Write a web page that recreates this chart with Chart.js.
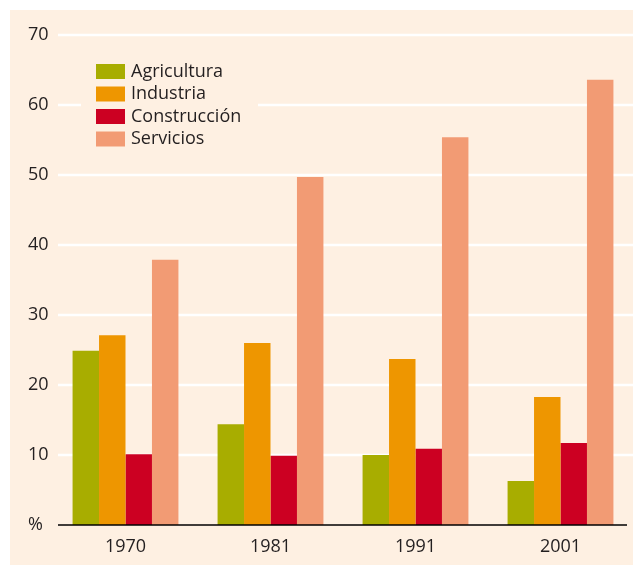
<!DOCTYPE html>
<html>
<head>
<meta charset="utf-8">
<script src="https://cdn.jsdelivr.net/npm/chart.js@4/dist/chart.umd.min.js"></script>
<style>
html,body{margin:0;padding:0;background:#ffffff;}
#wrap{width:633px;height:565px;position:relative;}
</style>
</head>
<body>
<div id="wrap"><canvas id="c" width="633" height="565"></canvas></div>
<script>
const categories = ['1970', '1981', '1991', '2001'];
const seriesNames = ['Agricultura', 'Industria', 'Construcción', 'Servicios'];
const agricultura = [24.9, 14.4, 10.0, 6.3];
const industria = [27.1, 26.0, 23.7, 18.3];
const construccion = [10.1, 9.9, 10.9, 11.7];
const servicios = [37.9, 49.7, 55.4, 63.6];
const yTickValues = [0, 10, 20, 30, 40, 50, 60, 70];
const yTickLabels = ['%', '10', '20', '30', '40', '50', '60', '70'];

const colors = ['#a8ad00', '#ee9600', '#cc0022', '#f29b74'];
const CREAM = '#fef0e2';
const FONT = '"Open Sans", "Noto Sans", sans-serif';
const TEXT = '#231f20';

const bgPlugin = {
  id: 'bg',
  beforeDraw(chart) {
    const ctx = chart.ctx;
    ctx.save();
    ctx.fillStyle = '#ffffff';
    ctx.fillRect(0, 0, chart.width, chart.height);
    ctx.fillStyle = CREAM;
    ctx.fillRect(10, 10, chart.width - 10, chart.height - 10);
    ctx.restore();
  }
};

const gridPlugin = {
  id: 'customGrid',
  beforeDatasetsDraw(chart) {
    const ctx = chart.ctx, y = chart.scales.y, a = chart.chartArea;
    ctx.save();
    ctx.strokeStyle = '#ffffff';
    ctx.lineWidth = 2.5;
    yTickValues.forEach(v => {
      if (v === 0) return;
      const py = y.getPixelForValue(v);
      ctx.beginPath();
      ctx.moveTo(a.left + 5, py);
      ctx.lineTo(chart.width, py);
      ctx.stroke();
    });
    ctx.restore();
  },
  afterDatasetsDraw(chart) {
    const ctx = chart.ctx, y = chart.scales.y, a = chart.chartArea;
    const py = y.getPixelForValue(0);
    ctx.save();
    ctx.strokeStyle = '#000000';
    ctx.lineWidth = 1.5;
    ctx.beginPath();
    ctx.moveTo(a.left + 5, py);
    ctx.lineTo(chart.width - 6, py);
    ctx.stroke();
    ctx.restore();
  }
};

const legendPlugin = {
  id: 'customLegend',
  afterDraw(chart) {
    const ctx = chart.ctx, a = chart.chartArea;
    const x0 = a.left + 28, areaX = a.left + 43;
    ctx.save();
    ctx.fillStyle = CREAM;
    ctx.fillRect(x0, 52, 177, 102);
    ctx.font = '18px ' + FONT;
    ctx.textBaseline = 'middle';
    ctx.textAlign = 'left';
    chart.data.datasets.forEach((ds, i) => {
      const top = 64 + i * 22.5;
      ctx.fillStyle = ds.backgroundColor;
      ctx.fillRect(areaX, top, 29, 15);
      ctx.fillStyle = TEXT;
      ctx.fillText(ds.label, areaX + 35, top + 7.5);
    });
    ctx.restore();
  }
};

const seriesData = [agricultura, industria, construccion, servicios];

new Chart(document.getElementById('c'), {
  type: 'bar',
  data: {
    labels: categories,
    datasets: seriesNames.map((n, i) => ({
      label: n,
      data: seriesData[i],
      backgroundColor: colors[i],
      borderWidth: 0,
      barPercentage: 1.0,
      categoryPercentage: 0.73
    }))
  },
  options: {
    responsive: false,
    animation: false,
    devicePixelRatio: 1,
    layout: { padding: { top: 35, left: 28, right: 0, bottom: 0 } },
    plugins: { legend: { display: false }, tooltip: { enabled: false } },
    scales: {
      x: {
        grid: { display: false, drawTicks: false },
        border: { display: false },
        ticks: { color: TEXT, font: { family: FONT, size: 18 }, padding: 11 },
        afterFit(s) { s.height = 40; }
      },
      y: {
        min: 0, max: 70,
        afterBuildTicks(s) { s.ticks = yTickValues.map(v => ({ value: v })); },
        grid: { display: false, drawTicks: false },
        border: { display: false },
        ticks: {
          color: TEXT,
          font: { family: FONT, size: 18 },
          crossAlign: 'far',
          padding: 0,
          callback(v) { const i = yTickValues.indexOf(v); return i >= 0 ? yTickLabels[i] : ''; }
        },
        afterFit(s) { s.width = 25; }
      }
    }
  },
  plugins: [bgPlugin, gridPlugin, legendPlugin]
});
</script>
</body>
</html>
